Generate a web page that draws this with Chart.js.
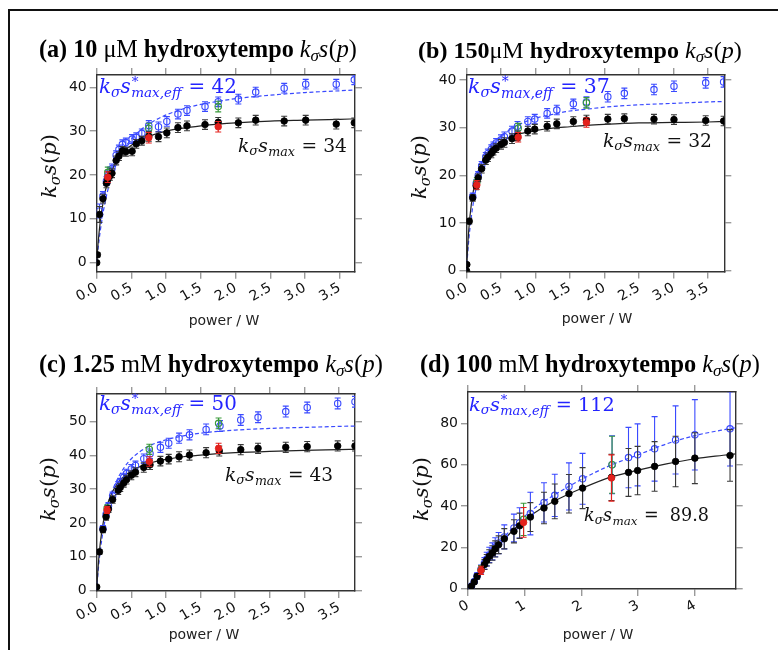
<!DOCTYPE html>
<html><head><meta charset="utf-8">
<script src="https://cdn.jsdelivr.net/npm/chart.js@4/dist/chart.umd.min.js"></script>
<style>
html,body{margin:0;padding:0;background:#fff;width:778px;height:650px;overflow:hidden;}
#frame{position:absolute;left:8px;top:9px;width:830px;height:720px;border:2px solid #111;box-sizing:border-box;}
canvas{position:absolute;}
</style></head>
<body>
<div id="frame"></div>
<canvas id="ca"></canvas><canvas id="cb"></canvas><canvas id="cc"></canvas><canvas id="cd"></canvas>
<script>
// ---------------- DATA ----------------
const xTicksABC = [0, 0.5, 1, 1.5, 2, 2.5, 3, 3.5];
const xTicksD = [0, 1, 2, 3, 4];
const yTicksA = [0, 10, 20, 30, 40];
const yTicksB = [0, 10, 20, 30, 40];
const yTicksC = [0, 10, 20, 30, 40, 50];
const yTicksD = [0, 20, 40, 60, 80];

// (a) 10 uM
const blackXA = [0, 0.01, 0.04, 0.09, 0.14, 0.16, 0.19, 0.22, 0.28, 0.32, 0.37, 0.42, 0.51, 0.57, 0.65, 0.75, 0.89, 1.01, 1.17, 1.30, 1.56, 1.75, 2.04, 2.29, 2.70, 3.01, 3.45, 3.71];
const blackYA = [0, 1.8, 11.0, 14.6, 18.1, 19.0, 19.8, 20.4, 23.3, 24.3, 25.5, 25.3, 25.4, 27.1, 27.8, 28.8, 28.7, 29.6, 30.8, 31.2, 31.5, 32.0, 31.9, 32.5, 32.3, 32.5, 31.6, 31.9];
const blackEA = [0.3, 0.5, 1.8, 1.0, 1.0, 1.0, 1.0, 1.0, 1.0, 1.0, 1.0, 1.0, 1.0, 1.0, 1.0, 1.1, 1.1, 1.1, 1.1, 1.1, 1.1, 1.1, 1.1, 1.1, 1.1, 1.1, 1.1, 1.1];
const blueXA = [0.04, 0.09, 0.14, 0.16, 0.19, 0.22, 0.28, 0.32, 0.37, 0.42, 0.51, 0.57, 0.65, 0.75, 0.89, 1.01, 1.17, 1.30, 1.56, 1.75, 2.04, 2.29, 2.70, 3.01, 3.45, 3.71];
const blueYA = [11.8, 15.2, 18.6, 19.9, 20.8, 21.5, 24.5, 25.8, 27.0, 27.4, 28.2, 28.6, 29.5, 31.3, 31.0, 32.2, 33.9, 34.7, 35.6, 36.7, 37.3, 38.9, 39.8, 40.7, 40.7, 41.7];
const blueEA = [1.6, 1.0, 1.0, 1.0, 1.0, 1.0, 1.0, 1.0, 1.0, 1.0, 1.0, 1.0, 1.0, 1.1, 1.1, 1.1, 1.1, 1.1, 1.1, 1.1, 1.1, 1.1, 1.1, 1.1, 1.1, 1.1];
const redXA = [0.16, 0.75, 1.75], redYA = [19.5, 28.5, 31.0], redEA = [1.2, 1.2, 1.2];
const greenXA = [0.16, 0.75, 1.75], greenYA = [20.6, 30.6, 35.6], greenEA = [1.2, 1.2, 1.2];
const fitXA = [0, 0.02, 0.05, 0.1, 0.15, 0.2, 0.3, 0.4, 0.5, 0.65, 0.8, 1.0, 1.25, 1.5, 1.75, 2.0, 2.5, 3.0, 3.5, 3.72];
const fitBlackA = [0, 4.4, 9.2, 14.5, 18.0, 20.4, 23.5, 25.5, 26.8, 28.2, 29.1, 30.0, 30.7, 31.2, 31.6, 31.9, 32.3, 32.5, 32.7, 32.8];
const fitBlueA = [0, 3.2, 7.1, 12.1, 15.9, 18.8, 23.1, 26.0, 28.2, 30.5, 32.1, 33.7, 35.1, 36.1, 36.8, 37.4, 38.2, 38.8, 39.2, 39.4];

// (b) 150 uM
const blackXB = [0, 0.005, 0.04, 0.09, 0.14, 0.17, 0.22, 0.28, 0.31, 0.36, 0.39, 0.43, 0.50, 0.55, 0.66, 0.74, 0.89, 0.99, 1.17, 1.31, 1.55, 1.74, 2.05, 2.29, 2.72, 3.01, 3.47, 3.73];
const blackYB = [0, 1.3, 10.4, 15.3, 17.8, 19.5, 21.4, 23.2, 23.8, 24.6, 25.2, 25.7, 26.5, 26.9, 27.7, 28.3, 29.3, 29.7, 30.3, 30.8, 31.3, 31.6, 31.8, 31.9, 31.8, 31.7, 31.5, 31.4];
const blackEB = [0.2, 0.3, 0.6, 0.7, 0.8, 0.8, 0.9, 0.9, 0.9, 0.9, 0.9, 0.9, 1.0, 1.0, 1.0, 1.0, 1.0, 1.0, 1.0, 1.0, 1.0, 1.0, 1.0, 1.0, 1.0, 1.0, 1.0, 1.0];
const blueXB = [0.09, 0.14, 0.17, 0.22, 0.28, 0.31, 0.36, 0.39, 0.43, 0.50, 0.55, 0.66, 0.74, 0.89, 0.99, 1.17, 1.31, 1.55, 1.74, 2.05, 2.29, 2.72, 3.01, 3.47, 3.73];
const blueYB = [15.6, 18.3, 20.0, 22.0, 23.9, 24.6, 25.5, 26.1, 26.8, 27.5, 28.1, 29.3, 30.3, 31.3, 31.8, 33.0, 33.7, 35.0, 35.4, 36.5, 37.2, 38.0, 38.7, 39.4, 39.6];
const blueEB = [0.7, 0.8, 0.8, 0.9, 0.9, 0.9, 0.9, 0.9, 0.9, 1.0, 1.0, 1.0, 1.0, 1.0, 1.0, 1.0, 1.0, 1.0, 1.1, 1.1, 1.1, 1.1, 1.1, 1.1, 1.1];
const redXB = [0.15, 0.75, 1.74], redYB = [18.0, 28.0, 31.1], redEB = [0.9, 1.0, 1.0];
const greenXB = [0.15, 0.75, 1.74], greenYB = [18.6, 29.9, 35.2], greenEB = [0.9, 1.0, 1.1];
const fitXB = [0, 0.02, 0.05, 0.1, 0.15, 0.2, 0.3, 0.4, 0.5, 0.65, 0.8, 1.0, 1.25, 1.5, 1.75, 2.0, 2.5, 3.0, 3.5, 3.74];
const fitBlackB = [0, 5.8, 11.4, 16.8, 20.0, 22.1, 24.6, 26.1, 27.1, 28.1, 28.8, 29.4, 29.9, 30.2, 30.5, 30.7, 31.0, 31.1, 31.2, 31.3];
const fitBlueB = [0, 4.2, 8.9, 14.3, 18.0, 20.7, 24.2, 26.5, 28.1, 29.8, 30.9, 32.0, 32.8, 33.5, 33.9, 34.3, 34.8, 35.1, 35.4, 35.5];

// (c) 1.25 mM
const blackXC = [0, 0.04, 0.09, 0.135, 0.17, 0.23, 0.31, 0.34, 0.39, 0.43, 0.50, 0.56, 0.68, 0.77, 0.92, 1.04, 1.19, 1.34, 1.58, 1.77, 2.08, 2.33, 2.73, 3.04, 3.48, 3.73];
const blackYC = [1.0, 11.4, 18.0, 21.8, 24.1, 26.9, 29.6, 30.5, 31.8, 32.8, 34.1, 35.0, 36.4, 37.2, 38.3, 38.9, 39.6, 40.1, 40.8, 41.3, 41.7, 42.1, 42.4, 42.6, 42.8, 42.8];
const blackEC = [0.4, 0.7, 0.9, 1.0, 1.0, 1.1, 1.2, 1.2, 1.2, 1.3, 1.3, 1.3, 1.4, 1.4, 1.4, 1.4, 1.5, 1.5, 1.5, 1.5, 1.5, 1.5, 1.5, 1.5, 1.5, 1.5];
const blueXC = [0.09, 0.135, 0.17, 0.23, 0.31, 0.34, 0.39, 0.43, 0.50, 0.56, 0.68, 0.77, 0.92, 1.04, 1.19, 1.34, 1.58, 1.78, 2.08, 2.33, 2.73, 3.04, 3.48, 3.73];
const blueYC = [18.3, 22.5, 25.0, 28.0, 31.0, 32.0, 33.5, 34.6, 36.0, 37.0, 39.0, 40.5, 42.4, 43.6, 45.1, 46.1, 47.7, 48.7, 50.5, 51.3, 53.0, 54.2, 55.4, 55.9];
const blueEC = [0.9, 1.0, 1.0, 1.1, 1.2, 1.2, 1.2, 1.3, 1.3, 1.3, 1.4, 1.4, 1.5, 1.5, 1.5, 1.5, 1.6, 1.6, 1.6, 1.6, 1.6, 1.6, 1.6, 1.6];
const redXC = [0.15, 0.76, 1.76], redYC = [23.8, 38.2, 42.1], redEC = [1.0, 1.4, 1.5];
const greenXC = [0.15, 0.76, 1.76], greenYC = [24.3, 41.8, 49.5], greenEC = [1.0, 1.5, 1.6];
const fitXC = [0, 0.02, 0.05, 0.1, 0.15, 0.2, 0.3, 0.4, 0.5, 0.65, 0.8, 1.0, 1.25, 1.5, 1.75, 2.0, 2.5, 3.0, 3.5, 3.73];
const fitBlackC = [0, 6.8, 13.7, 20.8, 25.1, 28.0, 31.7, 33.9, 35.4, 36.9, 37.9, 38.8, 39.6, 40.1, 40.5, 40.8, 41.2, 41.5, 41.7, 41.8];
const fitBlueC = [0, 5.5, 11.5, 18.5, 23.5, 28.0, 33.0, 36.5, 39.0, 41.5, 43.2, 44.6, 45.8, 46.6, 47.1, 47.5, 48.0, 48.3, 48.6, 48.7];

// (d) 100 mM
const blackXD = [0.06, 0.11, 0.16, 0.29, 0.33, 0.375, 0.43, 0.48, 0.54, 0.64, 0.81, 0.91, 1.10, 1.34, 1.53, 1.78, 2.02, 2.53, 2.83, 2.99, 3.29, 3.66, 4.0, 4.62];
const blackYD = [1.1, 3.2, 5.9, 11.6, 13.7, 15.6, 17.2, 19.2, 21.2, 24.1, 27.7, 30.4, 34.6, 39.0, 42.2, 45.9, 48.6, 53.8, 56.2, 57.1, 59.1, 61.5, 63.1, 64.4];
const blackED = [0.4, 0.8, 1.3, 2.4, 2.8, 3.2, 3.5, 3.9, 4.3, 4.9, 5.6, 6.1, 7.0, 7.6, 8.4, 9.3, 9.9, 11.2, 11.6, 11.7, 12.0, 12.2, 12.3, 12.5];
const blueXD = [0.06, 0.11, 0.16, 0.23, 0.29, 0.33, 0.375, 0.43, 0.48, 0.54, 0.64, 0.81, 0.91, 1.10, 1.34, 1.53, 1.78, 2.02, 2.54, 2.83, 2.99, 3.29, 3.66, 4.0, 4.62];
const blueYD = [1.2, 3.4, 6.2, 9.3, 12.2, 14.3, 16.3, 18.0, 20.0, 22.0, 25.0, 29.3, 31.8, 36.3, 41.7, 45.1, 49.4, 53.1, 59.9, 63.4, 64.7, 67.6, 71.9, 74.4, 77.3];
const blueED = [0.3, 0.8, 1.4, 2.1, 2.8, 3.3, 3.7, 4.1, 4.6, 5.1, 5.8, 6.7, 7.3, 10.3, 9.5, 10.2, 11.4, 12.3, 14.0, 14.6, 15.0, 15.6, 16.5, 17.0, 18.0];
const redXD = [0.23, 0.98, 2.53], redYD = [8.8, 32.0, 53.5], redED = [2.0, 7.2, 11.2];
const greenXD = [0.23, 0.98, 2.54], greenYD = [9.0, 33.5, 59.9], greenED = [2.2, 7.8, 13.8];
const fitXD = [0, 0.25, 0.5, 0.75, 1.0, 1.25, 1.5, 1.75, 2.0, 2.5, 3.0, 3.5, 4.0, 4.5, 4.72];
const fitBlackD = [0, 10.2, 19.5, 27.0, 33.3, 38.0, 42.0, 45.4, 48.4, 53.8, 57.3, 60.3, 62.8, 64.5, 65.2];
const fitBlueD = [0, 10.5, 20.5, 28.3, 35.0, 40.5, 44.9, 49.0, 52.8, 59.5, 64.7, 70.0, 74.0, 76.8, 77.8];

const maxEffLabels = ['42', '37', '50', '112'];
const maxLabels = ['34', '32', '43', '89.8'];
const panelLetters = ['(a) ', '(b) ', '(c) ', '(d) '];
const concNumbers = ['10', '150', '1.25', '100'];
const concUnits = [' μM ', 'μM ', ' mM ', ' mM '];

// ---------------- STYLE / LAYOUT ----------------
const BLUE = '#3a4aff', BLUE_TXT = '#2424ff', RED = '#e3211c', GREEN = '#3a9a3a', BLACK = '#000';
const SERIF = '"Liberation Serif", serif';
const MATH = '"DejaVu Serif", serif';
const SANS = '"DejaVu Sans", sans-serif';

const PANELS = [
  { id:'ca', box:[15,15,370,320], area:[96.7,75,355,271.7], xr:[0,3.72], yr:[-2.05,42.8], xt:xTicksABC, yt:yTicksA, dec:1,
    black:[blackXA,blackYA,blackEA], blue:[blueXA,blueYA,blueEA], red:[redXA,redYA,redEA], green:[greenXA,greenYA,greenEA],
    fit:[fitXA,fitBlackA,fitBlueA],
    pos:{title:[39,57,318], blue:[99,93,138], black:[238,152,109], ylab:[49.5,166,64], xlab:[224,324.5]} },
  { id:'cb', box:[390,15,385,320], area:[466.5,75,724.3,271.5], xr:[0,3.74], yr:[-0.15,41.05], xt:xTicksABC, yt:yTicksB, dec:1,
    black:[blackXB,blackYB,blackEB], blue:[blueXB,blueYB,blueEB], red:[redXB,redYB,redEB], green:[greenXB,greenYB,greenEB],
    fit:[fitXB,fitBlackB,fitBlueB],
    pos:{title:[418,58,324], blue:[468,93,142], black:[603,147,109], ylab:[420,167,64], xlab:[597,323]} },
  { id:'cc', box:[15,335,375,315], area:[96.7,394,355,591], xr:[0,3.73], yr:[-0.2,58.2], xt:xTicksABC, yt:yTicksC, dec:1,
    black:[blackXC,blackYC,blackEC], blue:[blueXC,blueYC,blueEC], red:[redXC,redYC,redEC], green:[greenXC,greenYC,greenEC],
    fit:[fitXC,fitBlackC,fitBlueC],
    pos:{title:[39,372,344], blue:[99,410,138], black:[225,481,108], ylab:[49,489,64], xlab:[204,639]} },
  { id:'cd', box:[392,335,384,315], area:[468,392,735.7,589], xr:[0,4.72], yr:[-0.2,95.1], xt:xTicksD, yt:yTicksD, dec:0,
    black:[blackXD,blackYD,blackED], blue:[blueXD,blueYD,blueED], red:[redXD,redYD,redED], green:[greenXD,greenYD,greenED],
    fit:[fitXD,fitBlackD,fitBlueD],
    pos:{title:[420,372,340], blue:[469,411,146], black:[584,521,125], ylab:[422,489,64], xlab:[598,639]} }
];

// ---------------- RICH TEXT ----------------
function fontStr(st, size, m){ return st + ' ' + size + 'px ' + (m ? MATH : SERIF); }
function layoutRich(ctx, parts, size, draw, x, y){
  let cx = x;
  for (const p of parts){
    if (p.stack){
      const s2 = size*0.68;
      ctx.font = fontStr('italic', s2, true);
      const w1 = p.sup ? ctx.measureText(p.sup).width : 0;
      const w2 = ctx.measureText(p.sub).width;
      if (draw){
        if (p.sup){ ctx.font = fontStr('normal', s2, true); ctx.fillText(p.sup, cx + size*0.03, y - size*0.36); ctx.font = fontStr('italic', s2, true); }
        ctx.fillText(p.sub, cx, y + size*0.22);
      }
      cx += Math.max(w1, w2) + size*0.04;
    } else {
      const s = size*(p.s||1);
      ctx.font = fontStr(p.st||'normal', s, p.m);
      if (draw) ctx.fillText(p.t, cx, y + (p.dy||0)*size);
      cx += ctx.measureText(p.t).width + (p.gap||0)*size;
    }
  }
  return cx - x;
}
function fitSize(ctx, parts, target){ return 100*target/layoutRich(ctx, parts, 100, false, 0, 0); }
const K = (m) => [{t:'k',st:'italic',m},{t:'σ',st:'italic',s:0.7,dy:0.18,m},{t:'s',st:'italic',m,gap:0.02}];
const KSP = (m) => K(m).concat([{t:'(',st:'normal',m},{t:'p',st:'italic',m},{t:')',st:'normal',m}]);

const textPlugin = {
  id:'txt',
  afterDraw(chart){
    const i = PANELS.findIndex(p => p.id === chart.canvas.id);
    const P = PANELS[i], ctx = chart.ctx, ox = P.box[0], oy = P.box[1];
    ctx.save();
    ctx.textAlign = 'left'; ctx.textBaseline = 'alphabetic';
    // title
    const title = [{t:panelLetters[i],st:'bold'},{t:concNumbers[i],st:'bold'},{t:concUnits[i],st:'normal'},{t:'hydroxytempo ',st:'bold'}].concat(KSP(0));
    let s = fitSize(ctx, title, P.pos.title[2]);
    ctx.fillStyle = '#000';
    layoutRich(ctx, title, s, true, P.pos.title[0]-ox, P.pos.title[1]-oy);
    // blue note
    const bn = K(1).concat([{stack:true, sup:'*', sub:'max,eff'},{t:' = ',st:'normal',m:1},{t:maxEffLabels[i],st:'normal',m:1}]);
    s = fitSize(ctx, bn, P.pos.blue[2]);
    ctx.fillStyle = BLUE_TXT;
    layoutRich(ctx, bn, s, true, P.pos.blue[0]-ox, P.pos.blue[1]-oy);
    // black note
    const kn = K(1).concat([{stack:true, sub:'max'},{t:(i===3?' =  ':' = '),st:'normal',m:1},{t:maxLabels[i],st:'normal',m:1}]);
    s = fitSize(ctx, kn, P.pos.black[2]);
    ctx.fillStyle = '#111';
    layoutRich(ctx, kn, s, true, P.pos.black[0]-ox, P.pos.black[1]-oy);
    // y label
    const yl = KSP(1);
    s = fitSize(ctx, yl, P.pos.ylab[2]);
    ctx.save();
    ctx.translate(P.pos.ylab[0]-ox, P.pos.ylab[1]-oy);
    ctx.rotate(-Math.PI/2);
    layoutRich(ctx, yl, s, true, -P.pos.ylab[2]/2, s*0.3);
    ctx.restore();
    // x label
    ctx.font = '14px ' + SANS; ctx.fillStyle = '#222'; ctx.textAlign = 'center';
    ctx.fillText('power / W', P.pos.xlab[0]-ox, P.pos.xlab[1]-oy);
    ctx.restore();
  }
};

const errPlugin = {
  id:'err',
  beforeDatasetDraw(chart, args){
    const ds = chart.data.datasets[args.index];
    if (!ds.errors) return;
    const xs = chart.scales.x, ys = chart.scales.y, ctx = chart.ctx, a = chart.chartArea;
    ctx.save();
    ctx.beginPath(); ctx.rect(a.left, a.top, a.right-a.left, a.bottom-a.top); ctx.clip();
    ctx.strokeStyle = ds.errColor; ctx.lineWidth = 1.1;
    const cap = 3;
    ds.data.forEach((p, k) => {
      const e = ds.errors[k];
      const px = xs.getPixelForValue(p.x), y1 = ys.getPixelForValue(p.y - e), y2 = ys.getPixelForValue(p.y + e);
      ctx.beginPath();
      ctx.moveTo(px, y1); ctx.lineTo(px, y2);
      ctx.moveTo(px-cap, y1); ctx.lineTo(px+cap, y1);
      ctx.moveTo(px-cap, y2); ctx.lineTo(px+cap, y2);
      ctx.stroke();
    });
    ctx.restore();
  }
};

function pts(xs, ys){ return xs.map((x, k) => ({x: x, y: ys[k]})); }

function makePanel(P){
  const cv = document.getElementById(P.id);
  cv.width = P.box[2]; cv.height = P.box[3];
  cv.style.left = P.box[0] + 'px'; cv.style.top = P.box[1] + 'px';
  cv.style.width = P.box[2] + 'px'; cv.style.height = P.box[3] + 'px';
  const leftW = P.area[0] - P.box[0], topH = P.area[1] - P.box[1];
  const rightW = P.box[0] + P.box[2] - P.area[2], botH = P.box[1] + P.box[3] - P.area[3];
  const grid = {drawOnChartArea:false, drawTicks:true, tickLength:7, color:'#9a9a9a', lineWidth:1.4};
  const border = {display:true, color:'#333', width:1.4};
  const tickFont = {family:'DejaVu Sans', size:14};
  const setX = s => { s.ticks = P.xt.map(v => ({value:v})); };
  const setY = s => { s.ticks = P.yt.map(v => ({value:v})); };
  const mk = (arr, extra) => Object.assign({type:'scatter', data: pts(arr[0], arr[1]), errors: arr[2], clip: 0}, extra);
  const datasets = [
    mk(P.red,   {pointRadius:3.3, pointBackgroundColor:RED, pointBorderColor:RED, pointBorderWidth:0.8, errColor:RED}),
    mk(P.black, {pointRadius:3.3, pointBackgroundColor:BLACK, pointBorderColor:BLACK, pointBorderWidth:0.8, errColor:'#3a3a3a'}),
    mk(P.green, {pointRadius:3.2, pointBackgroundColor:'rgba(0,0,0,0)', pointBorderColor:GREEN, pointBorderWidth:1.1, errColor:GREEN}),
    mk(P.blue,  {pointRadius:3.2, pointBackgroundColor:'rgba(0,0,0,0)', pointBorderColor:BLUE, pointBorderWidth:1.1, errColor:BLUE}),
    {type:'line', data: pts(P.fit[0], P.fit[1]), borderColor:'#222', borderWidth:1.2, pointRadius:0, cubicInterpolationMode:'monotone', fill:false, clip:0},
    {type:'line', data: pts(P.fit[0], P.fit[2]), borderColor:BLUE, borderWidth:1.2, borderDash:[4,2.5], pointRadius:0, cubicInterpolationMode:'monotone', fill:false, clip:0}
  ];
  return new Chart(cv, {
    type:'scatter',
    data:{datasets},
    options:{
      responsive:false, animation:false, devicePixelRatio:1, events:[],
      layout:{padding:0, autoPadding:false},
      plugins:{legend:{display:false}, tooltip:{enabled:false}, title:{display:false}},
      scales:{
        x:{type:'linear', position:'bottom', min:P.xr[0], max:P.xr[1], grid, border,
           afterBuildTicks:setX, afterFit:s => { s.height = botH; },
           ticks:{font:tickFont, color:'#111', minRotation:30, maxRotation:30, autoSkip:false, padding:1,
                  callback:v => P.dec ? Number(v).toFixed(1) : String(v)}},
        x2:{type:'linear', position:'top', min:P.xr[0], max:P.xr[1], grid, border,
           afterBuildTicks:setX, afterFit:s => { s.height = topH; }, ticks:{display:false}},
        y:{type:'linear', position:'left', min:P.yr[0], max:P.yr[1], grid, border,
           afterBuildTicks:setY, afterFit:s => { s.width = leftW; },
           ticks:{font:tickFont, color:'#111', padding:3, autoSkip:false}},
        y2:{type:'linear', position:'right', min:P.yr[0], max:P.yr[1], grid, border,
           afterBuildTicks:setY, afterFit:s => { s.width = rightW; }, ticks:{display:false}}
      }
    },
    plugins:[errPlugin, textPlugin]
  });
}
PANELS.forEach(makePanel);
</script>
</body></html>
